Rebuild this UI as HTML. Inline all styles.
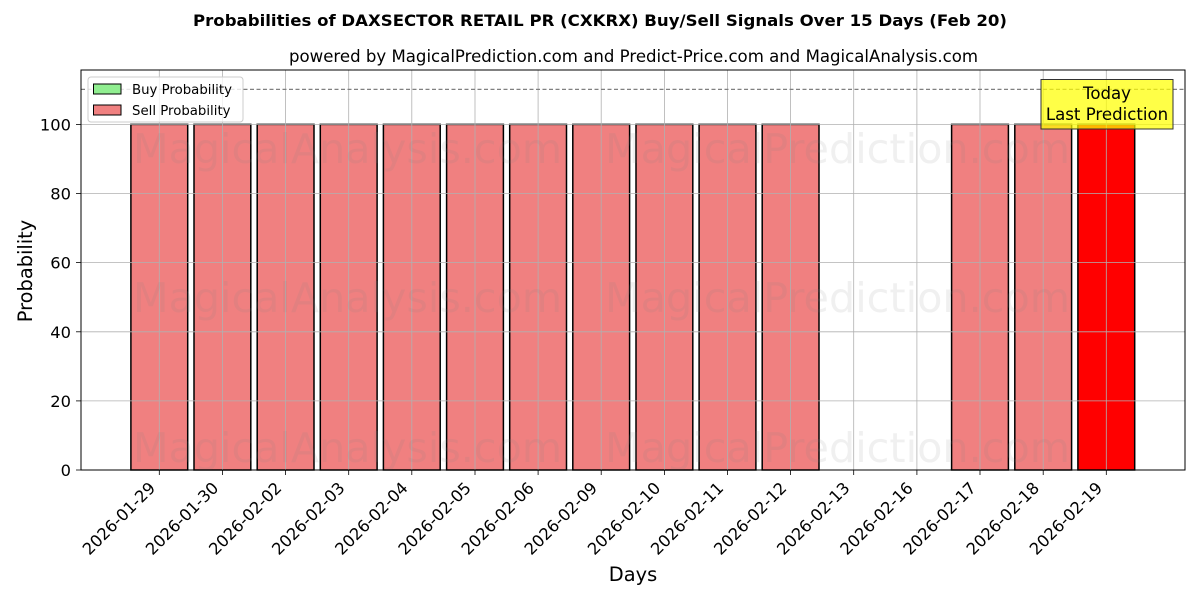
<!DOCTYPE html>
<html>
<head>
<meta charset="utf-8">
<style>
  html, body { margin:0; padding:0; background:#ffffff; }
  svg { display:block; }
  text { font-family: "DejaVu Sans", "Liberation Sans", sans-serif; fill:#000; }
</style>
</head>
<body>
<svg width="1200" height="600" viewBox="0 0 1200 600" xmlns="http://www.w3.org/2000/svg">
  <rect x="0" y="0" width="1200" height="600" fill="#ffffff"/>

  <!-- Title -->
  <text x="600" y="26" font-size="16.2" font-weight="bold" text-anchor="middle" textLength="814" lengthAdjust="spacingAndGlyphs">Probabilities of DAXSECTOR RETAIL PR (CXKRX) Buy/Sell Signals Over 15 Days (Feb 20)</text>
  <text x="633.5" y="62" font-size="16.6" text-anchor="middle" textLength="689" lengthAdjust="spacingAndGlyphs">powered by MagicalPrediction.com and Predict-Price.com and MagicalAnalysis.com</text>

  <!-- Bars -->
  <g stroke="#000" stroke-width="1.5">
    <rect x="130.9" y="124.4" width="56.8" height="345.6" fill="#f08080"/>
    <rect x="194.0" y="124.4" width="56.8" height="345.6" fill="#f08080"/>
    <rect x="257.2" y="124.4" width="56.8" height="345.6" fill="#f08080"/>
    <rect x="320.3" y="124.4" width="56.8" height="345.6" fill="#f08080"/>
    <rect x="383.4" y="124.4" width="56.8" height="345.6" fill="#f08080"/>
    <rect x="446.6" y="124.4" width="56.8" height="345.6" fill="#f08080"/>
    <rect x="509.7" y="124.4" width="56.8" height="345.6" fill="#f08080"/>
    <rect x="572.8" y="124.4" width="56.8" height="345.6" fill="#f08080"/>
    <rect x="636.0" y="124.4" width="56.8" height="345.6" fill="#f08080"/>
    <rect x="699.1" y="124.4" width="56.8" height="345.6" fill="#f08080"/>
    <rect x="762.2" y="124.4" width="56.8" height="345.6" fill="#f08080"/>
    <rect x="951.6" y="124.4" width="56.8" height="345.6" fill="#f08080"/>
    <rect x="1014.8" y="124.4" width="56.8" height="345.6" fill="#f08080"/>
    <rect x="1077.9" y="124.4" width="56.8" height="345.6" fill="#ff0000"/>
  </g>

  <!-- Grid -->
  <g stroke="#b0b0b0" stroke-width="0.8">
    <line x1="81" y1="470" x2="1185" y2="470"/>
    <line x1="81" y1="400.9" x2="1185" y2="400.9"/>
    <line x1="81" y1="331.8" x2="1185" y2="331.8"/>
    <line x1="81" y1="262.6" x2="1185" y2="262.6"/>
    <line x1="81" y1="193.5" x2="1185" y2="193.5"/>
    <line x1="81" y1="124.4" x2="1185" y2="124.4"/>
    <line x1="159.3" y1="70" x2="159.3" y2="470"/>
    <line x1="222.4" y1="70" x2="222.4" y2="470"/>
    <line x1="285.6" y1="70" x2="285.6" y2="470"/>
    <line x1="348.7" y1="70" x2="348.7" y2="470"/>
    <line x1="411.8" y1="70" x2="411.8" y2="470"/>
    <line x1="475.0" y1="70" x2="475.0" y2="470"/>
    <line x1="538.1" y1="70" x2="538.1" y2="470"/>
    <line x1="601.2" y1="70" x2="601.2" y2="470"/>
    <line x1="664.4" y1="70" x2="664.4" y2="470"/>
    <line x1="727.5" y1="70" x2="727.5" y2="470"/>
    <line x1="790.6" y1="70" x2="790.6" y2="470"/>
    <line x1="853.7" y1="70" x2="853.7" y2="470"/>
    <line x1="916.9" y1="70" x2="916.9" y2="470"/>
    <line x1="980.0" y1="70" x2="980.0" y2="470"/>
    <line x1="1043.2" y1="70" x2="1043.2" y2="470"/>
    <line x1="1106.3" y1="70" x2="1106.3" y2="470"/>
  </g>

  <!-- Dashed line at 110 -->
  <line x1="81" y1="89.4" x2="1185" y2="89.4" stroke="#808080" stroke-width="1.2" stroke-dasharray="4,2.5"/>

  <!-- Watermarks -->
  <g font-size="41" fill="#808080" fill-opacity="0.12">
    <text x="133" y="163" textLength="429" lengthAdjust="spacingAndGlyphs" style="fill:#808080;fill-opacity:0.12">MagicalAnalysis.com</text>
    <text x="605" y="163" textLength="465" lengthAdjust="spacingAndGlyphs" style="fill:#808080;fill-opacity:0.12">MagicalPrediction.com</text>
    <text x="133" y="312" textLength="429" lengthAdjust="spacingAndGlyphs" style="fill:#808080;fill-opacity:0.12">MagicalAnalysis.com</text>
    <text x="605" y="312" textLength="465" lengthAdjust="spacingAndGlyphs" style="fill:#808080;fill-opacity:0.12">MagicalPrediction.com</text>
    <text x="133" y="462" textLength="429" lengthAdjust="spacingAndGlyphs" style="fill:#808080;fill-opacity:0.12">MagicalAnalysis.com</text>
    <text x="605" y="462" textLength="465" lengthAdjust="spacingAndGlyphs" style="fill:#808080;fill-opacity:0.12">MagicalPrediction.com</text>
  </g>

  <!-- Axes frame -->
  <rect x="81" y="70" width="1104" height="400" fill="none" stroke="#000" stroke-width="1"/>

  <!-- Y ticks -->
  <g stroke="#000" stroke-width="0.8">
    <line x1="76" y1="470" x2="81" y2="470"/>
    <line x1="76" y1="400.9" x2="81" y2="400.9"/>
    <line x1="76" y1="331.8" x2="81" y2="331.8"/>
    <line x1="76" y1="262.6" x2="81" y2="262.6"/>
    <line x1="76" y1="193.5" x2="81" y2="193.5"/>
    <line x1="76" y1="124.4" x2="81" y2="124.4"/>
  </g>
  <g font-size="16.3" text-anchor="end">
    <text x="71" y="476">0</text>
    <text x="71" y="406.9">20</text>
    <text x="71" y="337.8">40</text>
    <text x="71" y="268.6">60</text>
    <text x="71" y="199.5">80</text>
    <text x="71" y="130.4">100</text>
  </g>

  <!-- X ticks -->
  <g stroke="#000" stroke-width="0.8">
    <line x1="159.3" y1="470" x2="159.3" y2="475"/>
    <line x1="222.4" y1="470" x2="222.4" y2="475"/>
    <line x1="285.6" y1="470" x2="285.6" y2="475"/>
    <line x1="348.7" y1="470" x2="348.7" y2="475"/>
    <line x1="411.8" y1="470" x2="411.8" y2="475"/>
    <line x1="475.0" y1="470" x2="475.0" y2="475"/>
    <line x1="538.1" y1="470" x2="538.1" y2="475"/>
    <line x1="601.2" y1="470" x2="601.2" y2="475"/>
    <line x1="664.4" y1="470" x2="664.4" y2="475"/>
    <line x1="727.5" y1="470" x2="727.5" y2="475"/>
    <line x1="790.6" y1="470" x2="790.6" y2="475"/>
    <line x1="853.7" y1="470" x2="853.7" y2="475"/>
    <line x1="916.9" y1="470" x2="916.9" y2="475"/>
    <line x1="980.0" y1="470" x2="980.0" y2="475"/>
    <line x1="1043.2" y1="470" x2="1043.2" y2="475"/>
    <line x1="1106.3" y1="470" x2="1106.3" y2="475"/>
  </g>
  <g font-size="16.3" text-anchor="end">
    <text transform="translate(156.3,489) rotate(-45)">2026-01-29</text>
    <text transform="translate(219.4,489) rotate(-45)">2026-01-30</text>
    <text transform="translate(282.6,489) rotate(-45)">2026-02-02</text>
    <text transform="translate(345.7,489) rotate(-45)">2026-02-03</text>
    <text transform="translate(408.8,489) rotate(-45)">2026-02-04</text>
    <text transform="translate(472.0,489) rotate(-45)">2026-02-05</text>
    <text transform="translate(535.1,489) rotate(-45)">2026-02-06</text>
    <text transform="translate(598.2,489) rotate(-45)">2026-02-09</text>
    <text transform="translate(661.4,489) rotate(-45)">2026-02-10</text>
    <text transform="translate(724.5,489) rotate(-45)">2026-02-11</text>
    <text transform="translate(787.6,489) rotate(-45)">2026-02-12</text>
    <text transform="translate(850.7,489) rotate(-45)">2026-02-13</text>
    <text transform="translate(913.9,489) rotate(-45)">2026-02-16</text>
    <text transform="translate(977.0,489) rotate(-45)">2026-02-17</text>
    <text transform="translate(1040.2,489) rotate(-45)">2026-02-18</text>
    <text transform="translate(1103.3,489) rotate(-45)">2026-02-19</text>
  </g>

  <!-- Axis labels -->
  <text x="633" y="581" font-size="19.4" text-anchor="middle">Days</text>
  <text transform="translate(32,271) rotate(-90)" font-size="19.4" text-anchor="middle">Probability</text>

  <!-- Legend -->
  <rect x="88" y="77" width="155" height="45" rx="3" ry="3" fill="#ffffff" fill-opacity="0.8" stroke="#cccccc" stroke-width="1"/>
  <rect x="93.5" y="84" width="27.5" height="10" fill="#90ee90" stroke="#000" stroke-width="1"/>
  <rect x="93.5" y="105" width="27.5" height="10" fill="#f08080" stroke="#000" stroke-width="1"/>
  <text x="132" y="94" font-size="13.3">Buy Probability</text>
  <text x="132" y="115" font-size="13.3">Sell Probability</text>

  <!-- Annotation -->
  <rect x="1041" y="79.5" width="132" height="49.5" fill="#ffff00" fill-opacity="0.72" stroke="#333333" stroke-width="1"/>
  <text x="1107" y="99" font-size="16.6" text-anchor="middle">Today</text>
  <text x="1107" y="120" font-size="16.6" text-anchor="middle">Last Prediction</text>
</svg>
</body>
</html>
